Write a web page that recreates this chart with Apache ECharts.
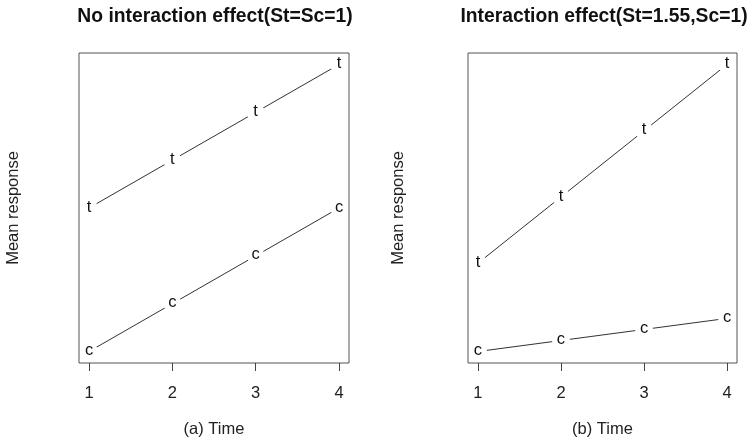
<!DOCTYPE html>
<html><head><meta charset="utf-8">
<script src="https://cdn.jsdelivr.net/npm/echarts@6/dist/echarts.min.js"></script>
<style>html,body{margin:0;padding:0;background:#fff}#c{width:754px;height:447px}</style>
</head><body><div id="c"></div>
<script>
const times = [1, 2, 3, 4];
const tickLabels = ['1', '2', '3', '4'];
const leftTreat = [4, 5, 6, 7];
const leftControl = [1, 2, 3, 4];
const rightTreat = [5, 8, 11, 14];
const rightControl = [1, 1.5, 2, 2.5];
const titles = ['No interaction effect(St=Sc=1)', 'Interaction effect(St=1.55,Sc=1)'];
const xNames = ['(a) Time', '(b) Time'];
const yName = 'Mean response';

const FONT = '"Liberation Sans", Arial, sans-serif';
const pad = (lo, hi) => { const d = (hi - lo) * 0.04; return [lo - d, hi + d]; };
const xr = pad(1, 4);
const yl = pad(Math.min(...leftControl, ...leftTreat), Math.max(...leftControl, ...leftTreat));
const yrr = pad(Math.min(...rightControl, ...rightTreat), Math.max(...rightControl, ...rightTreat));

function xAxis(i, name) {
  return {
    type: 'value', gridIndex: i, min: xr[0], max: xr[1],
    axisLine: { show: false },
    splitLine: { show: false },
    axisTick: { show: true, length: 8, customValues: times, lineStyle: { color: '#444' } },
    axisLabel: { show: true, customValues: times, margin: 22, fontSize: 16.5, color: '#222', fontFamily: FONT,
      formatter: v => tickLabels[times.indexOf(Math.round(v))] },
    name: name, nameLocation: 'middle', nameGap: 58,
    nameTextStyle: { fontSize: 16.5, color: '#222', fontFamily: FONT }
  };
}
function yAxis(i, r, gap) {
  return {
    type: 'value', gridIndex: i, min: r[0], max: r[1],
    axisLine: { show: false }, axisTick: { show: false }, axisLabel: { show: false },
    splitLine: { show: false },
    name: yName, nameLocation: 'middle', nameGap: gap,
    nameTextStyle: { fontSize: 16.5, color: '#222', fontFamily: FONT }
  };
}
function series(i, data, letter) {
  return {
    type: 'line', xAxisIndex: i, yAxisIndex: i,
    data: times.map((t, k) => [t, data[k]]),
    symbol: 'circle', symbolSize: 18,
    itemStyle: { color: '#fff', borderWidth: 0 },
    lineStyle: { color: '#333', width: 1 },
    label: { show: true, position: 'inside', formatter: letter, fontSize: 16.5, color: '#111', fontFamily: FONT, offset: [0, -1] },
    emphasis: { disabled: true },
    animation: false, z: 3
  };
}
const chart = echarts.init(document.getElementById('c'));
chart.setOption({
  animation: false,
  backgroundColor: '#fff',
  title: [
    { text: titles[0], left: 210, textAlign: 'center', top: 2, textStyle: { fontSize: 19.3, fontWeight: 'bold', color: '#111', fontFamily: FONT } },
    { text: titles[1], left: 599, textAlign: 'center', top: 2, textStyle: { fontSize: 19.3, fontWeight: 'bold', color: '#111', fontFamily: FONT } }
  ],
  grid: [
    { left: 79, top: 53, width: 270, height: 310, show: true, borderColor: '#555', borderWidth: 1, backgroundColor: 'transparent' },
    { left: 468, top: 53, width: 269, height: 310, show: true, borderColor: '#555', borderWidth: 1, backgroundColor: 'transparent' }
  ],
  xAxis: [xAxis(0, xNames[0]), xAxis(1, xNames[1])],
  yAxis: [yAxis(0, yl, 57), yAxis(1, yrr, 61.5)],
  series: [
    series(0, leftTreat, 't'), series(0, leftControl, 'c'),
    series(1, rightTreat, 't'), series(1, rightControl, 'c')
  ]
});
</script></body></html>
